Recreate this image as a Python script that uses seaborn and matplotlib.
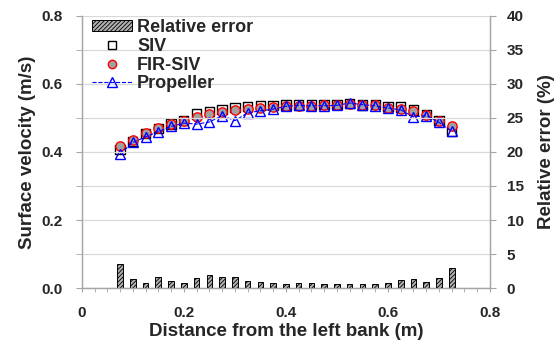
import numpy as np
import pandas as pd
import matplotlib
matplotlib.use("Agg")
import matplotlib.pyplot as plt
from matplotlib.lines import Line2D
from matplotlib.patches import Patch
from matplotlib.ticker import MultipleLocator
import seaborn as sns

# Cross-section positions (m from the left bank)
distance = [0.075, 0.100, 0.125, 0.150, 0.175, 0.200, 0.225, 0.250, 0.275,
            0.300, 0.325, 0.350, 0.375, 0.400, 0.425, 0.450, 0.475, 0.500,
            0.525, 0.550, 0.575, 0.600, 0.625, 0.650, 0.675, 0.700, 0.725]

# Surface velocity (m/s)
siv = [0.407, 0.431, 0.455, 0.469, 0.482, 0.492, 0.512, 0.518, 0.525,
       0.530, 0.533, 0.536, 0.537, 0.538, 0.538, 0.540, 0.540, 0.539,
       0.542, 0.538, 0.539, 0.534, 0.532, 0.523, 0.510, 0.492, 0.461]
fir_siv = [0.417, 0.436, 0.455, 0.471, 0.483, 0.492, 0.502, 0.513, 0.518,
           0.523, 0.526, 0.529, 0.532, 0.534, 0.535, 0.536, 0.537, 0.537,
           0.541, 0.539, 0.537, 0.530, 0.526, 0.519, 0.510, 0.492, 0.475]
propeller = [0.394, 0.428, 0.444, 0.460, 0.475, 0.485, 0.482, 0.488, 0.507,
             0.492, 0.515, 0.521, 0.526, 0.534, 0.537, 0.536, 0.536, 0.537,
             0.544, 0.539, 0.536, 0.529, 0.524, 0.503, 0.507, 0.487, 0.461]

# Relative error (%)
rel_error = [3.6, 1.4, 0.7, 1.6, 1.1, 0.7, 1.5, 1.9, 1.7,
             1.6, 1.0, 0.9, 0.8, 0.6, 0.7, 0.7, 0.6, 0.6,
             0.6, 0.6, 0.6, 0.8, 1.2, 1.4, 0.9, 1.5, 2.9]

df = pd.DataFrame({"distance": distance, "SIV": siv, "FIR-SIV": fir_siv,
                   "Propeller": propeller, "error": rel_error})

sns.set_style("ticks")
plt.rcParams["font.family"] = ["Liberation Sans", "DejaVu Sans"]
plt.rcParams["font.weight"] = "bold"
plt.rcParams["hatch.linewidth"] = 0.6

spine_col = "#a6a6a6"
grid_col = "#d9d9d9"
bar_face = "#b0b0b0"
bar_hatch = "////////"

fig = plt.figure(figsize=(5.6, 3.45), dpi=100)
ax = fig.add_axes([0.146, 0.165, 0.729, 0.789])
ax2 = ax.twinx()

# Horizontal grid: every 5 % on the error axis (= every 0.1 m/s)
ax2.set_ylim(0, 40)
ax2.set_yticks(range(0, 41, 5))
ax2.set_axisbelow(True)
ax2.grid(True, axis="y", color=grid_col, linewidth=0.9)

# Relative error bars on the secondary axis
sns.barplot(data=df, x="distance", y="error", native_scale=True, width=0.44,
            color=bar_face, edgecolor="black", linewidth=0.7, hatch=bar_hatch,
            errorbar=None, ax=ax2, zorder=2)

# Velocity profiles on the primary axis
sns.scatterplot(data=df, x="distance", y="SIV", marker="s", s=45,
                facecolor="none", edgecolor="black", linewidth=1.0,
                ax=ax, zorder=3)
sns.scatterplot(data=df, x="distance", y="FIR-SIV", marker="o", s=45,
                color="#a0a0a0", edgecolor="red", linewidth=1.0,
                ax=ax, zorder=4)
sns.lineplot(data=df, x="distance", y="Propeller", color="blue",
             linestyle="--", linewidth=0.8, marker="^", markersize=6.5,
             markerfacecolor="none", markeredgecolor="blue",
             markeredgewidth=1.0, ax=ax, zorder=5)

ax.set_xlim(0, 0.8)
ax2.set_xlim(0, 0.8)
ax.set_ylim(0, 0.8)
ax2.set_ylim(0, 40)

ax.xaxis.set_minor_locator(MultipleLocator(0.025))
ax.yaxis.set_minor_locator(MultipleLocator(0.1))
ax.set_xticks([0, 0.2, 0.4, 0.6, 0.8])
ax.set_xticklabels(["0", "0.2", "0.4", "0.6", "0.8"])
ax.set_yticks([0, 0.2, 0.4, 0.6, 0.8])
ax.set_yticklabels(["0.0", "0.2", "0.4", "0.6", "0.8"])
ax2.set_yticks(range(0, 41, 5))
ax.grid(False)

for a in (ax, ax2):
    a.spines["top"].set_visible(False)
    for s in ("left", "right", "bottom"):
        a.spines[s].set_color(spine_col)
        a.spines[s].set_linewidth(0.9)

ax.tick_params(axis="y", which="both", length=4, color=spine_col,
               labelsize=11, pad=10)
ax.tick_params(axis="x", which="both", length=3, color=spine_col,
               labelsize=11, pad=10)
ax2.tick_params(axis="y", length=4, color=spine_col, labelsize=11, pad=8)

ax.set_xlabel("Distance from the left bank (m)", fontsize=13.5,
              fontweight="bold", labelpad=2)
ax.set_ylabel("Surface velocity (m/s)", fontsize=13.5, fontweight="bold",
              labelpad=4)
ax2.set_ylabel("Relative error (%)", fontsize=13.5, fontweight="bold",
               labelpad=10)

handles = [
    Patch(facecolor=bar_face, edgecolor="black", hatch=bar_hatch,
          linewidth=0.7),
    Line2D([], [], linestyle="none", marker="s", markersize=6,
           markerfacecolor="none", markeredgecolor="black"),
    Line2D([], [], linestyle="none", marker="o", markersize=6,
           markerfacecolor="#a0a0a0", markeredgecolor="red"),
    Line2D([], [], color="blue", linestyle="--", linewidth=0.8, marker="^",
           markersize=6.5, markerfacecolor="none", markeredgecolor="blue"),
]
labels = ["Relative error", "SIV", "FIR-SIV", "Propeller"]
leg = ax2.legend(handles, labels, loc="upper left",
                 bbox_to_anchor=(92 / 560, 1 - 19 / 345),
                 bbox_transform=fig.transFigure, frameon=False,
                 prop={"size": 13, "weight": "bold"}, borderpad=0,
                 borderaxespad=0, handlelength=2.2, handletextpad=0.3,
                 labelspacing=0.1, handleheight=0.6)

fig.savefig("out.png", dpi=100)
